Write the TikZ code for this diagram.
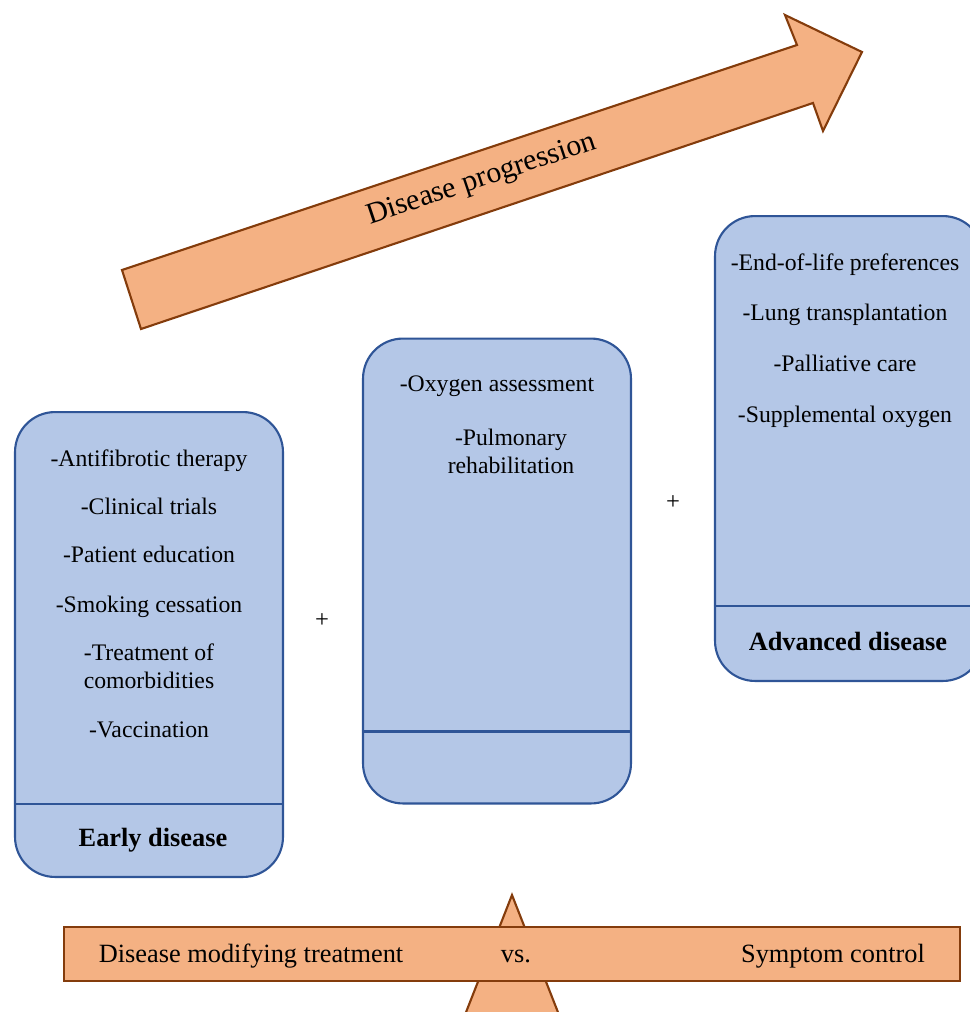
\documentclass[tikz,border=0pt]{standalone}
\usepackage{fontspec}
\setmainfont{Liberation Serif}
\usepackage{tikz}

\definecolor{peach}{HTML}{F4B183}
\definecolor{rust}{HTML}{843C0C}
\definecolor{paleblue}{HTML}{B4C7E7}
\definecolor{navy}{HTML}{2F5597}

\begin{document}
\begin{tikzpicture}[x=0.02cm, y=-0.02cm,
    stagebox/.style={draw=navy, fill=paleblue, line width=1.2pt, rounded corners=0.8cm,
      minimum width=5.36cm, minimum height=9.3cm, inner sep=0pt},
    item/.style={font=\fontsize{13.5}{15.5}\selectfont, anchor=base, align=center, inner sep=0pt},
    stage/.style={font=\fontsize{15}{18}\selectfont\bfseries, anchor=base, inner sep=0pt},
    bartext/.style={font=\fontsize{15}{18}\selectfont, anchor=base, inner sep=0pt}]
  \path[use as bounding box, clip] (0,0) rectangle (970,1012);

  % disease progression arrow
  \draw [rust, fill=peach, line width=1.2pt, line join=miter]
    (122,270) -- (797,45) -- (785,15) -- (862,52) -- (823,131) -- (813,103) -- (141,329) -- cycle;
  \node [rotate=18.5, font=\fontsize{17}{20}\selectfont] (prog) at (482,180) {Disease progression};

  % stages
  \node [stagebox] (early) at (149,644.5) {};
  \draw [navy, line width=1.2pt] ([yshift=1.48cm]early.south west) -- ([yshift=1.48cm]early.south east);
  \node [item] (e1) at (149,466) {-Antifibrotic therapy};
  \node [item] (e2) at (149,514) {-Clinical trials};
  \node [item] (e3) at (149,562) {-Patient education};
  \node [item] (e4) at (149,612) {-Smoking cessation};
  \node [item] (e5) at (149,688) {-Treatment of\\comorbidities};
  \node [item] (e6) at (149,737) {-Vaccination};
  \node [stage] (el) at (153,846) {Early disease};

  \node [stagebox] (mid) at (497,571) {};
  \draw [navy, line width=1.2pt] ([yshift=1.46cm]mid.south west) -- ([yshift=1.46cm]mid.south east);
  \node [item] (m1) at (497,391) {-Oxygen assessment};
  \node [item] (m2) at (511,473) {-Pulmonary\\rehabilitation};

  \node [stagebox] (adv) at (849,448.5) {};
  \draw [navy, line width=1.2pt] ([yshift=1.52cm]adv.south west) -- ([yshift=1.52cm]adv.south east);
  \node [item] (a1) at (845,270) {-End-of-life preferences};
  \node [item] (a2) at (845,320) {-Lung transplantation};
  \node [item] (a3) at (845,371) {-Palliative care};
  \node [item] (a4) at (845,422) {-Supplemental oxygen};
  \node [stage] (al) at (848,650) {Advanced disease};

  \node [font=\fontsize{14}{16}\selectfont] (p1) at (322,621) {+};
  \node [font=\fontsize{14}{16}\selectfont] (p2) at (673,503) {+};

  % balance
  \draw [rust, fill=peach, line width=1.2pt] (512,895) -- (563,1025) -- (461,1025) -- cycle;
  \node [draw=rust, fill=peach, line width=1.2pt, minimum width=17.92cm, minimum height=1.08cm,
    inner sep=0pt] (bar) at (512,954) {};
  \node [bartext] (b1) at (251,962) {Disease modifying treatment};
  \node [bartext] (b2) at (516,962) {vs.};
  \node [bartext] (b3) at (833,962) {Symptom control};
\end{tikzpicture}
\end{document}
